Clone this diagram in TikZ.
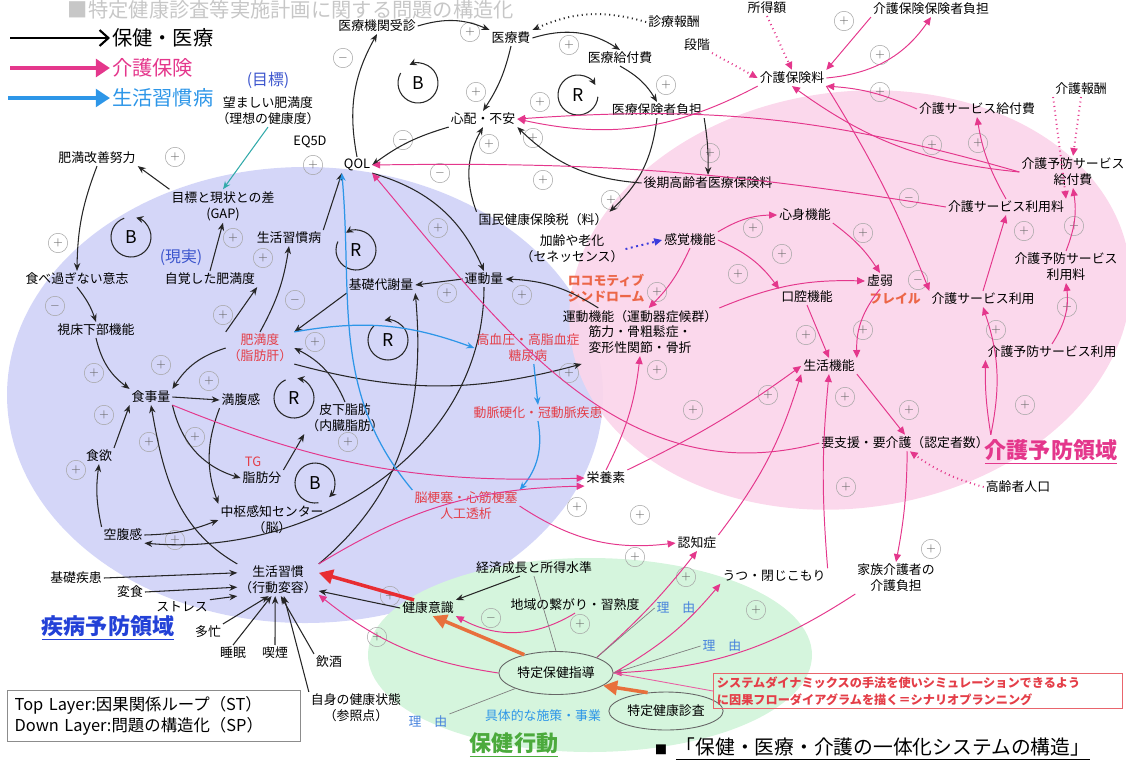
\documentclass[tikz,border=0pt]{standalone}
\usepackage{fontspec}
\setmainfont{Noto Sans CJK JP}
\usetikzlibrary{arrows.meta,shapes.geometric,calc}

\definecolor{blueArea}{RGB}{212,214,248}
\definecolor{pinkArea}{RGB}{251,213,234}
\definecolor{greenArea}{RGB}{213,245,221}
\definecolor{kaigoPink}{RGB}{228,55,140}
\definecolor{seiBlue}{RGB}{45,150,232}
\definecolor{redTxt}{RGB}{228,62,72}
\definecolor{orangeTxt}{RGB}{236,102,72}
\definecolor{arrowOrange}{RGB}{232,112,60}
\definecolor{arrowRed}{RGB}{232,45,50}
\definecolor{goalBlue}{RGB}{60,85,205}
\definecolor{areaBlue}{RGB}{35,65,215}
\definecolor{hokenGreen}{RGB}{75,170,60}
\definecolor{riyuBlue}{RGB}{70,130,220}
\definecolor{tealLine}{RGB}{50,170,170}
\definecolor{agingBlue}{RGB}{60,60,220}

\newcommand{\lblfont}{\fontsize{7.3}{9}\selectfont}

\begin{document}
\begin{tikzpicture}[x=0.567pt, y=0.567pt,
  lbl/.style={font=\lblfont, inner sep=1pt, align=center},
  redlbl/.style={lbl, text=redTxt},
  orlbl/.style={lbl, text=orangeTxt, font=\lblfont\bfseries},
  riyu/.style={lbl, text=riyuBlue},
  hoken/.style={-{Stealth[length=4.5pt,width=3.6pt]}, black!85, line width=0.6pt},
  kaigo/.style={-{Triangle[length=4.5pt,width=4pt]}, kaigoPink, line width=0.55pt},
  kdots/.style={kaigo, dotted, line width=1.1pt},
  sei/.style={-{Stealth[length=4.5pt,width=3.6pt]}, seiBlue, line width=0.7pt},
  bigarrow/.style={-{Triangle[length=8pt,width=8pt]}, line width=2pt},
  sign/.style={circle, draw=black!35, line width=0.3pt, inner sep=0pt, minimum size=11pt, font=\fontsize{6}{6}\selectfont, text=black!60},
  loopmark/.style={-{Stealth[length=4pt,width=4pt]}, black!85, line width=0.6pt},
  area/.style={font=\bfseries\fontsize{12.5}{14}\selectfont, inner sep=1pt}
]
\useasboundingbox (0,0) rectangle (1126,-761);

% areas
\fill[blueArea] (305,-395) ellipse [x radius=298, y radius=228];
\fill[pinkArea, fill opacity=0.92] (850,-300) ellipse [x radius=282, y radius=208, rotate=8];
\fill[greenArea] (590,-655) ellipse [x radius=222, y radius=97];

\node[font=\fontsize{11.5}{12}\selectfont, text=black!22, inner sep=0pt] (header) at (291,-10) {■特定健康診査等実施計画に関する問題の構造化};

% signs
\foreach \sx/\sy/\sv [count=\k] in {58/243/+, 343/58/-, 175/157/+, 313/165/+, 233/238/+, 263/258/+, 470/32/+, 569/45/+, 476/92/+, 540/102/+, 666/85/+, 403/140/-, 489/144/+, 533/138/+, 710/153/+, 440/173/-, 543/180/+, 611/200/+, 438/228/+, 844/21/+, 880/55/+, 880/92/+, 932/145/+, 978/143/+, 909/198/-, 1024/231/+, 1074/226/+, 753/228/+, 863/233/+, 782/254/+, 55/306/-, 295/300/-, 223/315/+, 315/342/+, 94/373/+, 161/365/+, 209/381/+, 104/415/+, 149/442/+, 195/437/+, 76/470/+, 348/442/+, 447/293/+, 522/295/+, 569/373/+, 657/292/+, 657/370/+, 693/410/+, 738/274/+, 577/507/+, 918/280/-, 863/330/+, 806/335/+, 996/330/+, 1067/307/+, 768/395/+, 845/397/+, 909/410/+, 1025/405/+, 846/487/+, 175/540/+, 377/637/+, 640/515/+, 635/557/+, 686/577/+, 390/596/+, 491/618/-, 580/624/+, 931/549/+, 756/610/+}
  \node[sign] (sg\k) at (\sx,-\sy) {$\sv$};

% loops
\foreach \cx/\cy/\lt/\sa/\ea [count=\i] in {418/83/B/-210/115, 578/95/R/355/30, 131/237/B/-250/75, 356/250/R/-205/120, 388/340/R/-225/100, 294/398/R/-245/80, 315/483/B/280/-45}{
  \node[font=\fontsize{10}{10}\selectfont] (loop\i) at (\cx,-\cy) {\lt};
  \draw[loopmark] (loop\i.center) ++(\sa:20) arc (\sa:\ea:20);
}

% legend
\node[font=\fontsize{11.5}{12}\selectfont, anchor=west, inner sep=1pt] (lg_hoken) at (110,-38) {保健・医療};
\node[font=\fontsize{11.5}{12}\selectfont, anchor=west, inner sep=1pt, text=kaigoPink] (lg_kaigo) at (110,-68) {介護保険};
\node[font=\fontsize{11.5}{12}\selectfont, anchor=west, inner sep=1pt, text=seiBlue] (lg_sei) at (110,-98) {生活習慣病};
\coordinate (lg_a) at (10,-38);
\coordinate (lg_b) at (10,-68);
\coordinate (lg_c) at (8,-98);
\draw[-{Straight Barb[length=5pt,width=9pt]}, line width=1.2pt, black] (lg_a) -- (lg_hoken.west);
\draw[-{Triangle[length=8pt,width=10pt]}, line width=2pt, kaigoPink] (lg_b) -- (lg_kaigo.west);
\draw[-{Triangle[length=8pt,width=10pt]}, line width=1.8pt, seiBlue] (lg_c) -- (lg_sei.west);

% nodes: iryou
\node[lbl] (n_kikan) at (377,-26) {医療機関受診};
\node[lbl] (n_iryohi) at (511,-38) {医療費};
\node[lbl] (n_shinryo) at (674,-22) {診療報酬};
\node[lbl] (n_kyufu) at (620,-58) {医療給付費};
\node[lbl] (n_dankai) at (697,-45) {段階};
\node[lbl] (n_fuan) at (483,-119) {心配・不安};
\node[lbl] (n_hokensha) at (657,-110) {医療保険者負担};
\node[lbl] (n_kouki) at (708,-183) {後期高齢者医療保険料};
\node[lbl] (n_kokuho) at (543,-220) {国民健康保険税（料）};
\node[lbl] (n_karei) at (572,-249) {加齢や老化\\（セネッセンス）};
\node[lbl] (n_qol) at (357,-165) {QOL};
\node[lbl] (n_eq) at (310,-142) {EQ5D};
\node[lbl, text=goalBlue, font=\fontsize{9}{10}\selectfont] (n_mokuhyo) at (268,-80) {(目標)};
\node[lbl] (n_nozomashii) at (268,-111) {望ましい肥満度\\（理想の健康度）};
\node[lbl] (n_kaizen) at (97,-158) {肥満改善努力};
\node[lbl] (n_gap) at (223,-206) {目標と現状との差\\(GAP)};
\node[lbl] (n_shukanbyo) at (289,-238) {生活習慣病};
\node[lbl, text=goalBlue, font=\fontsize{9}{10}\selectfont] (n_genjitsu) at (181,-257) {(現実)};
\node[lbl] (n_jikaku) at (210,-279) {自覚した肥満度};
\node[lbl] (n_ishi) at (77,-279) {食べ過ぎない意志};
\node[lbl] (n_kiso) at (381,-285) {基礎代謝量};
\node[lbl] (n_undoryo) at (484,-279) {運動量};
\node[lbl] (n_shisho) at (96,-330) {視床下部機能};
\node[redlbl] (n_himan) at (260,-348) {肥満度\\（脂肪肝）};
\node[redlbl] (n_koketsu) at (528,-348) {高血圧・高脂血症\\糖尿病};
\node[redlbl] (n_domyaku) at (538,-413) {動脈硬化・冠動脈疾患};
\node[redlbl] (n_nokosoku) at (466,-506) {脳梗塞・心筋梗塞\\人工透析};
\node[lbl] (n_shokuji) at (151,-397) {食事量};
\node[lbl] (n_manpuku) at (241,-400) {満腹感};
\node[lbl] (n_hika) at (345,-418) {皮下脂肪\\（内臓脂肪）};
\node[lbl] (n_shokuyoku) at (99,-456) {食欲};
\node[redlbl] (n_tg) at (253,-462) {TG};
\node[lbl] (n_shibo) at (262,-478) {脂肪分};
\node[lbl] (n_chusu) at (272,-520) {中枢感知センター\\（脳）};
\node[lbl] (n_kufuku) at (123,-535) {空腹感};
\node[lbl] (n_shukan) at (278,-580) {生活習慣\\（行動変容）};
\node[lbl] (n_kisoshikkan) at (76,-578) {基礎疾患};
\node[lbl] (n_henshoku) at (130,-592) {変食};
\node[lbl] (n_stress) at (182,-607) {ストレス};
\node[lbl] (n_tabou) at (208,-632) {多忙};
\node[lbl] (n_suimin) at (233,-653) {睡眠};
\node[lbl] (n_kitsuen) at (275,-653) {喫煙};
\node[lbl] (n_inshu) at (329,-662) {飲酒};
\node[lbl] (n_jishin) at (356,-708) {自身の健康状態\\（参照点）};
\node[area, text=areaBlue] (n_shippei) at (108,-628) {\underline{疾病予防領域}};

% nodes: kaigo
\node[lbl] (n_shotoku) at (767,-8) {所得額};
\node[lbl] (n_kaigohokensha) at (931,-9) {介護保険保険者負担};
\node[lbl] (n_kaigohokenryo) at (792,-78) {介護保険料};
\node[lbl] (n_kaigohoshu) at (1081,-89) {介護報酬};
\node[lbl] (n_kservicekyufu) at (977,-109) {介護サービス給付費};
\node[lbl] (n_yobokyufu) at (1073,-172) {介護予防サービス\\給付費};
\node[lbl] (n_kserviceryo) at (1006,-207) {介護サービス利用料};
\node[lbl] (n_shinshin) at (805,-215) {心身機能};
\node[lbl] (n_kankaku) at (690,-240) {感覚機能};
\node[orlbl] (n_locomo) at (606,-288) {ロコモティブ\\シンドローム};
\node[lbl] (n_undokino) at (640,-332) {運動機能（運動器症候群）\\筋力・骨粗鬆症・\\変形性関節・骨折};
\node[lbl] (n_koku) at (807,-297) {口腔機能};
\node[lbl] (n_kyojaku) at (880,-281) {虚弱};
\node[orlbl] (n_frail) at (895,-299) {フレイル};
\node[lbl] (n_kservice) at (983,-299) {介護サービス利用};
\node[lbl] (n_yoboryo) at (1066,-267) {介護予防サービス\\利用料};
\node[lbl] (n_yoboriyo) at (1052,-352) {介護予防サービス利用};
\node[lbl] (n_seikatsukino) at (829,-366) {生活機能};
\node[lbl] (n_yokaigo) at (905,-443) {要支援・要介護（認定者数）};
\node[area, text=kaigoPink] (n_kaigoryoiki) at (1051,-452) {\underline{介護予防領域}};
\node[lbl] (n_koreisha) at (1018,-487) {高齢者人口};
\node[lbl] (n_eiyo) at (606,-478) {栄養素};
\node[lbl] (n_ninchi) at (697,-543) {認知症};
\node[lbl] (n_utsu) at (774,-576) {うつ・閉じこもり};
\node[lbl] (n_kazoku) at (896,-578) {家族介護者の\\介護負担};

% nodes: hoken kodo
\node[lbl] (n_keizai) at (534,-568) {経済成長と所得水準};
\node[lbl] (n_ishiki) at (428,-608) {健康意識};
\node[lbl] (n_chiiki) at (575,-605) {地域の繋がり・習熟度};
\node[riyu] (n_riyu1) at (676,-608) {理　由};
\node[riyu] (n_riyu2) at (722,-646) {理　由};
\node[riyu] (n_riyu3) at (428,-722) {理　由};
\node[lbl, ellipse, draw=black!60, line width=0.5pt, minimum width=95*0.567pt, minimum height=43*0.567pt] (n_shido) at (556,-673) {特定保健指導};
\node[lbl, ellipse, draw=black!60, line width=0.5pt, minimum width=94*0.567pt, minimum height=38*0.567pt] (n_kenshin) at (666,-711) {特定健康診査};
\node[lbl, text=seiBlue] (n_shisaku) at (543,-716) {具体的な施策・事業};
\node[area, text=hokenGreen] (n_hokenkodo) at (514,-745) {\underline{保健行動}};

% boxes and title
\node[draw=redTxt!80, line width=0.5pt, text=redTxt, font=\bfseries\fontsize{6.9}{9.4}\selectfont, align=left, text width=228pt, inner sep=2pt, minimum height=34*0.567pt] (n_redbox) at (918,-691) {システムダイナミックスの手法を使いシミュレーションできるよう\\に因果フローダイアグラムを描く＝シナリオプランニング};
\node[draw=black!45, line width=0.4pt, align=left, font=\fontsize{9.3}{11.5}\selectfont, minimum width=166pt, minimum height=29pt, text width=158pt, inner sep=3pt] (n_legendbox) at (154,-716) {Top Layer:因果関係ループ（ST）\\Down Layer:問題の構造化（SP）};
\node[font=\fontsize{7}{8}\selectfont, inner sep=0pt] (n_square) at (661,-750) {■};
\node[font=\fontsize{11.2}{12}\selectfont, inner sep=1pt] (n_title) at (883,-749) {\underline{「保健・医療・介護の一体化システムの構造」}};

% hoken / iryou
\draw[hoken] (n_qol.north) to[bend left=20] (n_kikan.south);
\draw[hoken] (n_kikan.east) to[bend left=20] (n_iryohi.north west);
\draw[hoken, dotted, line width=1.1pt] (n_shinryo.west) to[bend right=20] (n_iryohi.north east);
\draw[hoken] (n_iryohi.east) to[bend left=25] (n_kyufu.north);
\draw[hoken] (n_iryohi.south) to[bend left=10] (n_fuan.north);
\draw[hoken] (n_kyufu.south) to[bend left=15] (n_hokensha.north);
\draw[hoken] (n_hokensha.south) to[bend left=20] (n_kokuho.north east);
\draw[hoken] (n_hokensha.south east) to[bend left=5] (n_kouki.north);
\draw[hoken] (n_kokuho.north west) to[bend left=25] (n_fuan.south);
\draw[hoken] (n_kouki.west) to[bend left=20] (n_fuan.south east);
\draw[hoken] (n_fuan.south west) to[bend right=10] (n_qol.east);
\draw[hoken] (n_kaizen.south) to[bend right=10] (n_ishi.north);
\draw[hoken] (n_gap.north west) -- (n_kaizen.south east);
\draw[-{Stealth[length=4.5pt,width=3.6pt]}, tealLine, line width=0.6pt] (n_nozomashii.south) -- (n_gap.north);
\draw[hoken] (n_jikaku.north) -- (n_gap.south);
\draw[hoken] (n_shukanbyo.north east) -- (n_qol.south west);
\draw[hoken] (n_himan.north west) -- (n_jikaku.south east);
\draw[hoken] (n_himan.north) to[bend right=10] (n_shukanbyo.south);
\draw[hoken] (n_kiso.south west) -- (n_himan.north east);
\draw[hoken] (n_undoryo.west) -- (n_kiso.east);
\draw[hoken] (n_undokino.150) to[bend right=15] (n_undoryo.east);
\draw[hoken] (n_himan.west) to[bend right=20] (n_shokuji.north east);
\draw[hoken] (n_shisho.south) to[bend right=20] (n_shokuji.north west);
\draw[hoken] (n_ishi.south) to[bend left=10] (n_shisho.north);
\draw[hoken] (n_shokuji.east) -- (n_manpuku.west);
\draw[hoken] (n_shokuyoku.north east) -- (n_shokuji.south west);
\draw[hoken] (n_kufuku.north west) to[bend left=10] (n_shokuyoku.south);
\draw[hoken] (n_kufuku.east) to[bend right=10] (n_chusu.west);
\draw[hoken] (n_shokuji.south east) to[bend right=30] (n_shibo.west);
\draw[hoken] (n_manpuku.south west) to[bend right=20] (n_chusu.north west);
\draw[hoken] (n_shibo.north east) -- (n_hika.south west);
\draw[hoken] (n_hika.north) to[bend right=20] (n_himan.east);
\draw[hoken] (n_undoryo.south) to[out=-90, in=-5] (n_kufuku.south east);
\draw[hoken] (n_shukan.north east) to[out=40, in=-85] (n_kiso.south east);
\draw[hoken] (n_shukan.north west) to[out=150, in=-80] (n_shokuji.south);
\draw[hoken] (n_himan.south east) to[bend right=15] (n_koketsu.south east);
\draw[hoken] (n_qol.south east) to[bend left=25] (n_undoryo.north);
\draw[hoken] (n_kisoshikkan.east) -- (n_shukan.170);
\draw[hoken] (n_henshoku.east) -- (n_shukan.190);
\draw[hoken] (n_stress.north east) -- (n_shukan.south west);
\draw[hoken] (n_tabou.north east) -- (n_shukan.-120);
\draw[hoken] (n_suimin.north) -- (n_shukan.-112);
\draw[hoken] (n_kitsuen.north) -- (n_shukan.-100);
\draw[hoken] (n_inshu.north west) -- (n_shukan.-80);
\draw[hoken] (n_jishin.north west) -- (n_shukan.-70);
\draw[hoken] (n_ishiki.west) -- (n_shukan.-15);
\draw[hoken] (n_keizai.-150) -- (n_ishiki.north east);
\draw[bigarrow, arrowRed] (n_ishiki.150) -- (n_shukan.10);
\draw[bigarrow, arrowOrange] (n_shido.150) -- (n_ishiki.-60);
\draw[bigarrow, arrowOrange] (n_kenshin.135) -- (n_shido.-15);

% seikatsu shukanbyo
\draw[sei] (n_himan.north east) to[bend left=15] (n_koketsu.west);
\draw[sei] (n_koketsu.-70) -- (n_domyaku.north);
\draw[sei] (n_domyaku.south) to[bend left=25] (n_nokosoku.north east);
\draw[sei] (n_nokosoku.north west) to[out=130, in=-85] (n_qol.south west);

% kaigo hoken
\draw[kdots] (n_shotoku.south) -- (n_kaigohokenryo.north);
\draw[kdots] (n_dankai.south east) -- (n_kaigohokenryo.west);
\draw[kaigo] (n_kaigohokensha.south west) -- (n_kaigohokenryo.north east);
\draw[kaigo] (n_kaigohokenryo.east) to[bend right=25] (n_kaigohokensha.south);
\draw[kaigo] (n_kservicekyufu.west) to[bend right=10] (n_kaigohokenryo.south east);
\draw[kaigo] (n_yobokyufu.west) to[bend left=15] (n_kaigohokenryo.south);
\draw[kaigo] (n_kserviceryo.north) to[bend left=10] (n_kservicekyufu.south);
\draw[kdots] (n_kaigohoshu.south west) -- (n_kserviceryo.north east);
\draw[kdots] (n_kaigohoshu.south) -- (n_yobokyufu.north);
\draw[kaigo] (n_yoboryo.north) to[bend right=15] (n_yobokyufu.south);
\draw[kaigo] (n_kservice.north) -- (n_kserviceryo.south);
\draw[kaigo] (n_yoboriyo.north) to[bend right=20] (n_yoboryo.south);
\draw[kaigo] (n_yokaigo.north east) to[bend right=15] (n_kservice.south);
\draw[kaigo] (n_yokaigo.north east) to[bend left=5] (n_yoboriyo.south west);
\draw[kaigo] (n_seikatsukino.south east) -- (n_yokaigo.north);
\draw[kdots] (n_koreisha.west) to[bend left=10] (n_yokaigo.-60);
\draw[kaigo] (n_koku.south) -- (n_seikatsukino.north);
\draw[kaigo] (n_kyojaku.south) to[bend right=20] (n_seikatsukino.north east);
\draw[kaigo] (n_shinshin.south east) to[bend left=10] (n_kyojaku.north);
\draw[kaigo] (n_kankaku.north east) to[bend left=15] (n_shinshin.west);
\draw[kaigo] (n_kankaku.east) to[bend left=15] (n_koku.north west);
\draw[kaigo] (n_kankaku.south) to[bend left=10] (n_undokino.70);
\draw[kaigo] (n_undokino.north east) to[bend left=12] (n_kyojaku.west);
\draw[-{Triangle[length=4.5pt,width=4pt]}, agingBlue, dotted, line width=1.1pt] (n_karei.east) -- (n_kankaku.west);
\draw[kaigo] (n_kaigohokenryo.south east) to[bend left=5] (n_kservice.north west);
\draw[kaigo] (n_kaigohokenryo.south west) to[bend left=20] (n_fuan.east);
\draw[kaigo] (n_yobokyufu.west) to[bend right=10] (n_fuan.east);
\draw[kaigo] (n_kserviceryo.west) to[bend right=5] (n_qol.east);
\draw[kaigo] (n_yokaigo.west) to[out=195, in=-50] (n_qol.south east);
\draw[kaigo] (n_shokuji.south east) to[bend right=12] (n_eiyo.west);
\draw[kaigo] (n_shukan.north east) to[bend left=15] (n_eiyo.south west);
\draw[kaigo] (n_eiyo.north) to[bend right=10] (n_undokino.south);
\draw[kaigo] (n_eiyo.north east) to[bend right=5] (n_seikatsukino.west);
\draw[kaigo] (n_nokosoku.east) to[bend right=20] (n_ninchi.west);
\draw[kaigo] (n_shido.north east) to[bend right=5] (n_ninchi.south);
\draw[kaigo] (n_shido.east) to[bend right=10] (n_utsu.south west);
\draw[kaigo] (n_ninchi.north east) to[bend right=10] (n_seikatsukino.south west);
\draw[kaigo] (n_utsu.north east) to[bend left=5] (n_seikatsukino.south);
\draw[kaigo] (n_yokaigo.-75) to[bend left=5] (n_kazoku.north);
\draw[kaigo] (n_kazoku.south west) to[bend left=15] (n_shido.east);
\draw[kaigo] (n_shido.west) to[bend left=15] (n_shukan.-20);
\draw[kaigo] (n_chiiki.south) to[bend left=30] (n_ishiki.south east);
\draw[kaigoPink!80, line width=0.5pt] (n_shido.east) -- (n_redbox.west);

% reasons
\draw[black!50, line width=0.4pt] (n_shido.north) -- (n_keizai.south);
\draw[black!50, line width=0.4pt] (n_shido.north east) -- (n_riyu1.west);
\draw[black!50, line width=0.4pt] (n_shido.east) -- (n_riyu2.west);
\draw[black!50, line width=0.4pt] (n_shido.south west) -- (n_riyu3.north east);

\end{tikzpicture}
\end{document}
